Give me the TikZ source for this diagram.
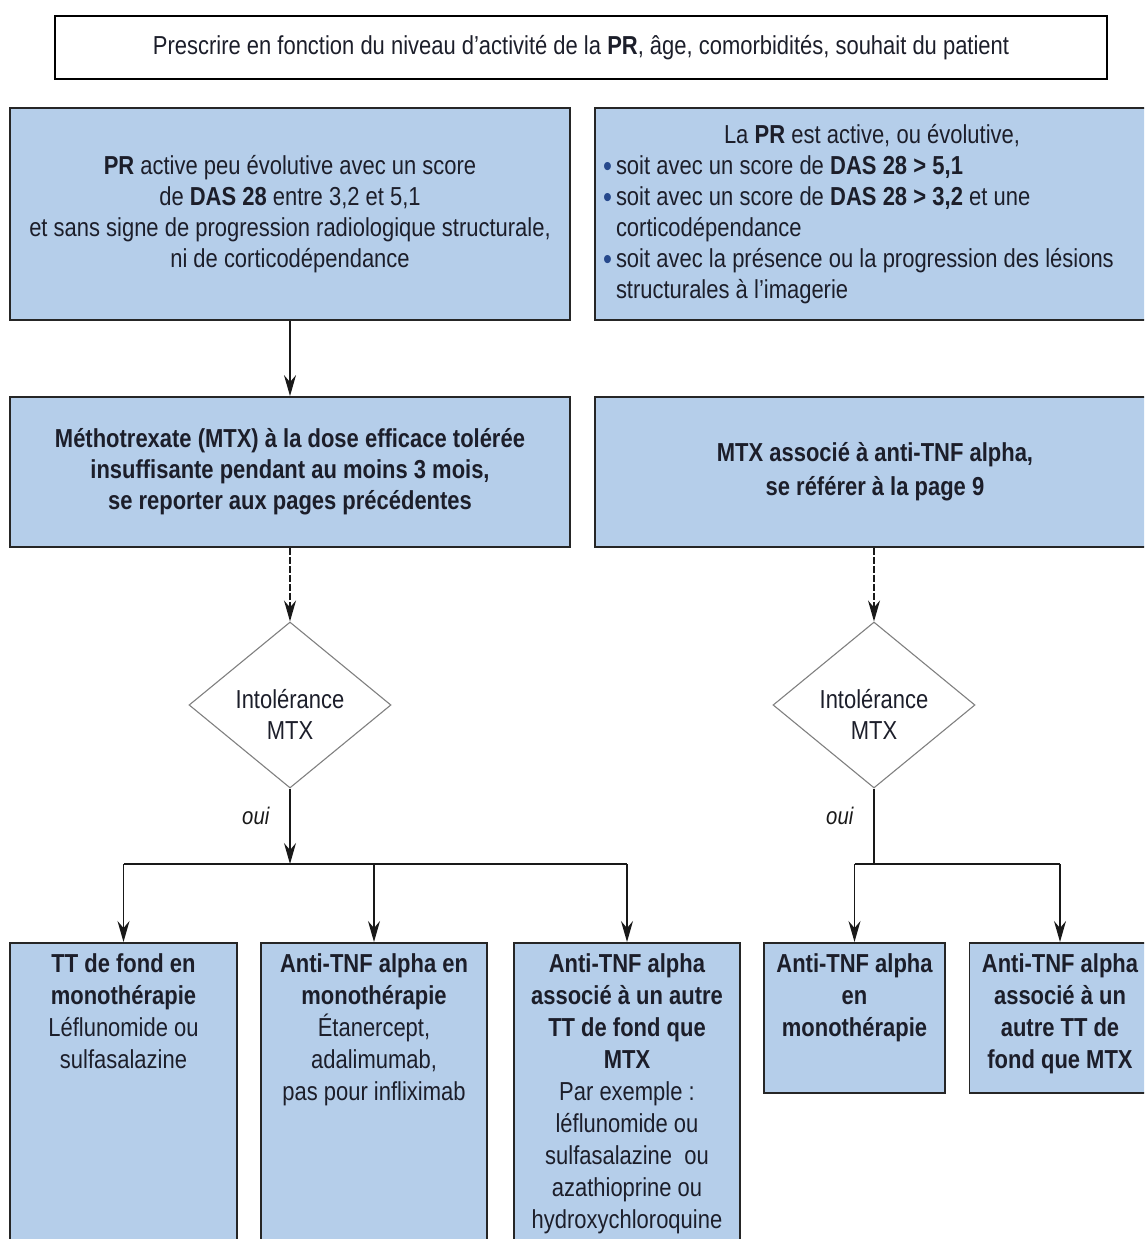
\documentclass[tikz,border=0pt]{standalone}
\usepackage{fontspec}
\setmainfont{Liberation Sans}[FakeStretch=0.845]
\usepackage{xcolor}
\usetikzlibrary{positioning,shapes.geometric,arrows.meta}

\definecolor{boxblue}{RGB}{181,206,234}
\definecolor{ink}{RGB}{28,30,42}
\definecolor{dotblue}{RGB}{38,72,140}

\newcommand{\puce}{\makebox[13pt][l]{\raisebox{-2.5pt}{\textcolor{dotblue}{\fontsize{30}{30}\selectfont\textbullet}}}}

\begin{document}
\begin{tikzpicture}[x=1pt,y=-1pt,font=\fontsize{26}{31}\selectfont,text=ink,
  headbox/.style={draw=black,line width=1.8pt,minimum width=1052pt,minimum height=63pt,inner sep=0pt},
  bluebox/.style={draw=black!85,line width=1.8pt,fill=boxblue,inner sep=0pt},
  cell/.style={align=center,inner sep=0pt,font=\fontsize{26}{32}\selectfont},
  choice/.style={diamond,draw=black!50,line width=1.1pt,fill=white,minimum width=202pt,minimum height=166pt,inner sep=0pt},
  link/.style={line width=1.4pt,black!90},
  arr/.style={link,-{Stealth[length=21pt,width=12pt,inset=7pt]}},
  dasharr/.style={arr,dash pattern=on 7pt off 2pt},
  ouilabel/.style={font=\fontsize{24}{24}\selectfont\itshape,inner sep=0pt}]
  \useasboundingbox (0,0) rectangle (1144,1239);
  \clip (0,0) rectangle (1144,1239);

  \node[headbox] (head) at (581,47.5) {Prescrire en fonction du niveau d'activité de la \textbf{PR}, âge, comorbidités, souhait du patient};

  \node[bluebox,minimum width=560pt,minimum height=212pt,align=center] (modere) at (290,214)
    {\textbf{PR} active peu évolutive avec un score\\de \textbf{DAS 28} entre 3,2 et 5,1\\et sans signe de progression radiologique structurale,\\ni de corticodépendance};
  \node[bluebox,minimum width=560pt,minimum height=212pt,text width=544pt,inner xsep=8pt,align=left] (active) at (875,214)
    {\spaceskip=6.2pt plus 1pt
     \makebox[538pt]{La \textbf{PR} est active, ou évolutive,}\\
     \puce soit avec un score de \textbf{DAS 28 > 5,1}\\
     \puce soit avec un score de \textbf{DAS 28 > 3,2} et une\\
     \hspace*{13pt}corticodépendance\\
     \puce soit avec la présence ou la progression des lésions\\
     \hspace*{13pt}structurales à l'imagerie};

  \node[bluebox,minimum width=560pt,minimum height=150pt,align=center,font=\fontsize{26}{31}\selectfont\bfseries] (mtx) at (290,472)
    {Méthotrexate (MTX) à la dose efficace tolérée\\insuffisante pendant au moins 3 mois,\\se reporter aux pages précédentes};
  \node[bluebox,minimum width=560pt,minimum height=150pt,align=center,font=\fontsize{26}{34}\selectfont\bfseries] (mtxtnf) at (875,472)
    {MTX associé à anti-TNF alpha,\\se référer à la page 9};

  \node[choice] (intol) at (290,705) {};
  \node[choice] (intolb) at (874,705) {};
  \node[align=center,inner sep=0pt,yshift=-9pt] (intoltxt) at (intol.center) {Intolérance\\MTX};
  \node[align=center,inner sep=0pt,yshift=-9pt] (intolbtxt) at (intolb.center) {Intolérance\\MTX};
  \coordinate (split) at (290,864);
  \coordinate (splitb) at (874,864);

  \node[bluebox,minimum width=227pt,minimum height=320pt,anchor=north] (tt) at (123.5,942) {};
  \node[bluebox,minimum width=226pt,minimum height=320pt,anchor=north] (tnf) at (374,942) {};
  \node[bluebox,minimum width=226pt,minimum height=320pt,anchor=north] (tnfautre) at (627,942) {};
  \node[bluebox,minimum width=181pt,minimum height=150pt,anchor=north] (tnfb) at (854.5,942) {};
  \node[bluebox,minimum width=181pt,minimum height=150pt,anchor=north] (tnfautreb) at (1060,942) {};

  \node[cell,below=11pt of tt.north] (tttxt)
    {\textbf{TT de fond en}\\\textbf{monothérapie}\\Léflunomide ou\\sulfasalazine};
  \node[cell,below=11pt of tnf.north] (tnftxt)
    {\textbf{Anti-TNF alpha en}\\\textbf{monothérapie}\\Étanercept,\\adalimumab,\\pas pour infliximab};
  \node[cell,below=11pt of tnfautre.north] (tnfautretxt)
    {\textbf{Anti-TNF alpha}\\\textbf{associé à un autre}\\\textbf{TT de fond que}\\\textbf{MTX}\\Par exemple :\\léflunomide ou\\sulfasalazine\ \ ou\\azathioprine ou\\hydroxychloroquine};
  \node[cell,below=11pt of tnfb.north,font=\fontsize{26}{32}\selectfont\bfseries] (tnfbtxt)
    {Anti-TNF alpha\\en\\monothérapie};
  \node[cell,below=11pt of tnfautreb.north,font=\fontsize{26}{32}\selectfont\bfseries] (tnfautrebtxt)
    {Anti-TNF alpha\\associé à un\\autre TT de\\fond que MTX};

  \draw[arr] (modere.south) -- (mtx.north);
  \draw[dasharr] (mtx.south) -- (intol.north);
  \draw[dasharr] (mtxtnf.south -| intolb.north) -- (intolb.north);

  \draw[arr] (intol.south) -- node[pos=0.36,left=20pt,ouilabel] (oui) {oui} (split);
  \draw[link] (intolb.south) -- node[pos=0.36,left=20pt,ouilabel] (ouib) {oui} (splitb);

  \draw[link] (split -| tt.north) -- (split -| tnfautre.north);
  \draw[link] (splitb -| tnfb.north) -- (splitb -| tnfautreb.north);
  \foreach \b in {tt,tnf,tnfautre,tnfb,tnfautreb}
    \draw[arr] (split -| \b.north) -- (\b.north);
\end{tikzpicture}
\end{document}
